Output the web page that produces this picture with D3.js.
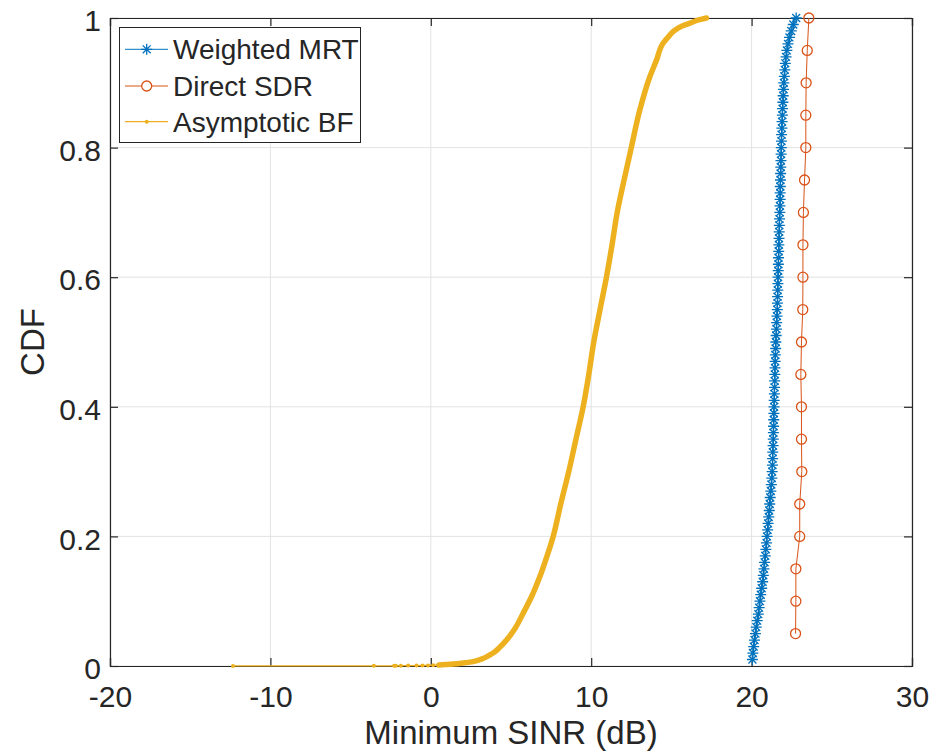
<!DOCTYPE html>
<html>
<head>
<meta charset="utf-8">
<script src="https://cdn.jsdelivr.net/npm/d3@7"></script>
<style>
  body { margin: 0; background: #fff; }
  svg text { font-family: "Liberation Sans", Arial, Helvetica, sans-serif; fill: #262626; }
</style>
</head>
<body>
<div id="chart"></div>
<script>
// Weighted MRT: empirical CDF levels and minimum SINR (dB)
const mrtCdf = [0.01,0.02,0.03,0.04,0.05,0.06,0.07,0.08,0.09,0.10,
  0.11,0.12,0.13,0.14,0.15,0.16,0.17,0.18,0.19,0.20,
  0.21,0.22,0.23,0.24,0.25,0.26,0.27,0.28,0.29,0.30,
  0.31,0.32,0.33,0.34,0.35,0.36,0.37,0.38,0.39,0.40,
  0.41,0.42,0.43,0.44,0.45,0.46,0.47,0.48,0.49,0.50,
  0.51,0.52,0.53,0.54,0.55,0.56,0.57,0.58,0.59,0.60,
  0.61,0.62,0.63,0.64,0.65,0.66,0.67,0.68,0.69,0.70,
  0.71,0.72,0.73,0.74,0.75,0.76,0.77,0.78,0.79,0.80,
  0.81,0.82,0.83,0.84,0.85,0.86,0.87,0.88,0.89,0.90,
  0.91,0.92,0.93,0.94,0.95,0.96,0.97,0.98,0.99,1.00];
const mrtSinr = [20.05,20.08,20.13,20.18,20.24,20.29,20.35,20.42,20.47,20.52,
  20.57,20.63,20.69,20.73,20.77,20.81,20.85,20.89,20.93,20.96,
  21.00,21.03,21.07,21.10,21.13,21.16,21.20,21.23,21.26,21.28,
  21.30,21.31,21.32,21.34,21.35,21.36,21.37,21.38,21.39,21.40,
  21.41,21.42,21.43,21.44,21.45,21.46,21.47,21.48,21.50,21.51,
  21.53,21.55,21.56,21.58,21.60,21.61,21.62,21.63,21.64,21.65,
  21.66,21.67,21.68,21.69,21.70,21.71,21.72,21.73,21.74,21.76,
  21.77,21.78,21.78,21.79,21.80,21.81,21.82,21.83,21.84,21.85,
  21.86,21.87,21.89,21.90,21.92,21.93,21.95,21.97,21.99,22.01,
  22.04,22.07,22.10,22.15,22.20,22.27,22.36,22.47,22.60,22.78];

// Direct SDR
const sdrCdf = [0.05,0.10,0.15,0.20,0.25,0.30,0.35,0.40,0.45,0.50,
  0.55,0.60,0.65,0.70,0.75,0.80,0.85,0.90,0.95,1.00];
const sdrSinr = [22.74,22.76,22.76,23.00,23.00,23.13,23.11,23.11,23.07,23.11,
  23.19,23.20,23.20,23.23,23.30,23.38,23.38,23.40,23.47,23.57];

// Asymptotic BF
const bfCdf = [0.0001,0.0002,0.0003,0.0004,0.0005,0.0006,0.0007,0.0008,0.0009,0.0012,
  0.0016,0.0022,0.003,0.0045,0.0067,0.011,0.017,0.02,0.029,0.040,
  0.058,0.081,0.108,0.138,0.17,0.2,0.25,0.3,0.35,0.4,
  0.45,0.5,0.55,0.6,0.65,0.7,0.75,0.8,0.858,0.909,
  0.935,0.961,0.972,0.981,0.988,0.992,0.997,1.0];
const bfSinr = [-12.33,-3.55,-2.29,-2.18,-1.87,-1.41,-0.89,-0.52,-0.17,0.15,
  0.5,0.9,1.4,2.0,2.64,3.2,3.68,3.89,4.3,4.72,
  5.25,5.75,6.3,6.8,7.25,7.63,8.1,8.6,9.05,9.5,
  9.85,10.16,10.55,10.95,11.3,11.62,12.05,12.5,13.03,13.65,
  14.07,14.48,14.85,15.21,15.7,16.15,16.7,17.19];

const xTicks = [-20,-10,0,10,20,30];
const yTicks = [0,0.2,0.4,0.6,0.8,1];
const seriesNames = ["Weighted MRT","Direct SDR","Asymptotic BF"];
const colors = ["#0072BD","#D95319","#EDB120"];

const W = 935, H = 753;
const margin = {top: 18, right: 23, bottom: 87, left: 110};

const svg = d3.select("#chart").append("svg")
  .attr("width", W).attr("height", H);

const x = d3.scaleLinear().domain([-20,30]).range([margin.left, W - margin.right]);
const y = d3.scaleLinear().domain([0,1]).range([H - margin.bottom, margin.top]);

const mrt = mrtCdf.map((c,i) => ({x: mrtSinr[i], y: c}));
const sdr = sdrCdf.map((c,i) => ({x: sdrSinr[i], y: c}));
const bf = bfCdf.map((c,i) => ({x: bfSinr[i], y: c}));

// grid
svg.append("g").selectAll("line").data(xTicks).enter().append("line")
  .attr("x1", d => x(d)).attr("x2", d => x(d))
  .attr("y1", y(0)).attr("y2", y(1))
  .attr("stroke", "#e3e3e3").attr("stroke-width", 1);
svg.append("g").selectAll("line").data(yTicks).enter().append("line")
  .attr("y1", d => y(d)).attr("y2", d => y(d))
  .attr("x1", x(-20)).attr("x2", x(30))
  .attr("stroke", "#e3e3e3").attr("stroke-width", 1);

// axes (ticks inside, on all four sides)
const fs = 30;
const axBottom = svg.append("g").attr("transform", `translate(0,${y(0)})`)
  .call(d3.axisBottom(x).tickValues(xTicks).tickSize(-8).tickPadding(20).tickFormat(d => String(d)));
const axTop = svg.append("g").attr("transform", `translate(0,${y(1)})`)
  .call(d3.axisTop(x).tickValues(xTicks).tickSize(-8).tickFormat(""));
const axLeft = svg.append("g").attr("transform", `translate(${x(-20)},0)`)
  .call(d3.axisLeft(y).tickValues(yTicks).tickSize(-8).tickPadding(9).tickFormat(d => String(d)));
const axRight = svg.append("g").attr("transform", `translate(${x(30)},0)`)
  .call(d3.axisRight(y).tickValues(yTicks).tickSize(-8).tickFormat(""));
[axBottom, axTop, axLeft, axRight].forEach(g => {
  g.select(".domain").attr("stroke", "#262626").attr("stroke-width", 1.2);
  g.selectAll(".tick line").attr("stroke", "#262626").attr("stroke-width", 1.2);
  g.selectAll("text").style("font-size", fs + "px")
    .attr("fill", "#262626").style("font-family", "'Liberation Sans', Arial, sans-serif");
});
axBottom.selectAll("text").attr("dy", "0.71em");
axLeft.selectAll("text").attr("dy", "0.42em");

// axis labels
svg.append("text")
  .attr("x", (x(-20) + x(30)) / 2).attr("y", 744)
  .attr("text-anchor", "middle").style("font-size", "33px")
  .text("Minimum SINR (dB)");
svg.append("text")
  .attr("transform", `translate(44,${(y(0) + y(1)) / 2}) rotate(-90)`)
  .attr("text-anchor", "middle").style("font-size", "33px")
  .text("CDF");

const line = d3.line().x(d => x(d.x)).y(d => y(d.y));

const starPath = s => `M${-s},0L${s},0M0,${-s}L0,${s}M${-s*0.72},${-s*0.72}L${s*0.72},${s*0.72}M${-s*0.72},${s*0.72}L${s*0.72},${-s*0.72}`;

// Weighted MRT
svg.append("path").datum(mrt).attr("d", line)
  .attr("fill", "none").attr("stroke", colors[0]).attr("stroke-width", 1);
svg.append("g").selectAll("path").data(mrt).enter().append("path")
  .attr("transform", d => `translate(${x(d.x)},${y(d.y)})`)
  .attr("d", starPath(5.5))
  .attr("stroke", colors[0]).attr("stroke-width", 1.3).attr("fill", "none");

// Direct SDR
svg.append("path").datum(sdr).attr("d", line)
  .attr("fill", "none").attr("stroke", colors[1]).attr("stroke-width", 1);
svg.append("g").selectAll("circle").data(sdr).enter().append("circle")
  .attr("cx", d => x(d.x)).attr("cy", d => y(d.y)).attr("r", 5)
  .attr("fill", "none").attr("stroke", colors[1]).attr("stroke-width", 1.3);

// Asymptotic BF (dense samples look like a thick band)
svg.append("path").datum(bf).attr("d", line)
  .attr("fill", "none").attr("stroke", colors[2]).attr("stroke-width", 1.3);
svg.append("path").datum(bf.filter(d => d.x > 0.3)).attr("d", d3.line().curve(d3.curveMonotoneY).x(d => x(d.x)).y(d => y(d.y)))
  .attr("fill", "none").attr("stroke", colors[2]).attr("stroke-width", 5.5)
  .attr("stroke-linejoin", "round").attr("stroke-linecap", "round");
svg.append("g").selectAll("circle").data(bf.filter(d => d.x <= 0.3)).enter().append("circle")
  .attr("cx", d => x(d.x)).attr("cy", d => y(d.y)).attr("r", 2)
  .attr("fill", colors[2]);

// legend
const lg = svg.append("g");
lg.append("rect").attr("x", 119.5).attr("y", 27.5).attr("width", 241).attr("height", 115)
  .attr("fill", "#fff").attr("stroke", "#262626").attr("stroke-width", 1);
const rows = [49.3, 86, 121.7];
seriesNames.forEach((name, i) => {
  const ry = rows[i];
  lg.append("line").attr("x1", 125).attr("x2", 168).attr("y1", ry).attr("y2", ry)
    .attr("stroke", colors[i]).attr("stroke-width", i === 2 ? 1.3 : 1);
  if (i === 0) {
    lg.append("path").attr("transform", `translate(146.7,${ry})`).attr("d", starPath(5.5))
      .attr("stroke", colors[0]).attr("stroke-width", 1.3).attr("fill", "none");
  } else if (i === 1) {
    lg.append("circle").attr("cx", 146.7).attr("cy", ry).attr("r", 5)
      .attr("fill", "#fff").attr("stroke", colors[1]).attr("stroke-width", 1.3);
  } else {
    lg.append("circle").attr("cx", 146.7).attr("cy", ry).attr("r", 2).attr("fill", colors[2]);
  }
  lg.append("text").attr("x", 173).attr("y", ry + 10)
    .style("font-size", "28px").text(name);
});
</script>
</body>
</html>
